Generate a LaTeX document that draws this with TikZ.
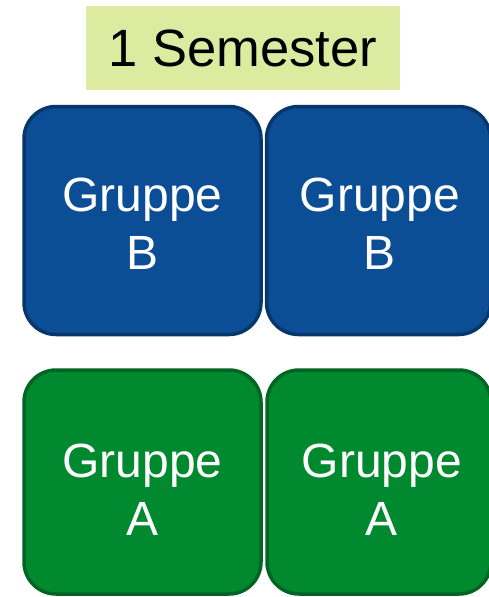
\documentclass[tikz,border=0pt]{standalone}
\usepackage{fontspec}
\setmainfont{Liberation Sans}
\definecolor{semgreen}{HTML}{DDEBA1}
\definecolor{grpblue}{HTML}{0C4E96}
\definecolor{grpblueline}{HTML}{07366A}
\definecolor{grpgreen}{HTML}{00892E}
\definecolor{grpgreenline}{HTML}{046423}
\begin{document}
\begin{tikzpicture}[
    x=1pt, y=-1pt,
    label/.style={fill=semgreen, minimum width=314pt, minimum height=84pt, inner sep=0pt,
      font=\fontsize{52.5}{60}\selectfont},
    group/.style={rounded corners=32pt, line width=3.5pt, minimum height=228pt, inner sep=0pt},
    groupb/.style={group, fill=grpblue, draw=grpblueline},
    groupa/.style={group, fill=grpgreen, draw=grpgreenline, minimum height=224pt},
    grptext/.style={text=white, align=center, inner sep=0pt, font=\fontsize{48}{58}\selectfont}
  ]
  \useasboundingbox (0,0) rectangle (488,597);
  \node[label] (sem) at (243,48) {1 Semester};

  \node[groupb, minimum width=237pt] (b1) at (142.5,220.5) {};
  \node[groupb, minimum width=224pt] (b2) at (378.5,220.5) {};
  \node[grptext] (b1t) at ([yshift=-3pt]b1) {Gruppe\\B};
  \node[grptext] (b2t) at ([xshift=1.5pt,yshift=-3pt]b2) {Gruppe\\B};

  \node[groupa, minimum width=237pt] (a1) at (142.5,482) {};
  \node[groupa, minimum width=224pt] (a2) at (379,482) {};
  \node[grptext] (a1t) at ([yshift=-8pt]a1) {Gruppe\\A};
  \node[grptext] (a2t) at ([xshift=3pt,yshift=-8pt]a2) {Gruppe\\A};
\end{tikzpicture}
\end{document}
